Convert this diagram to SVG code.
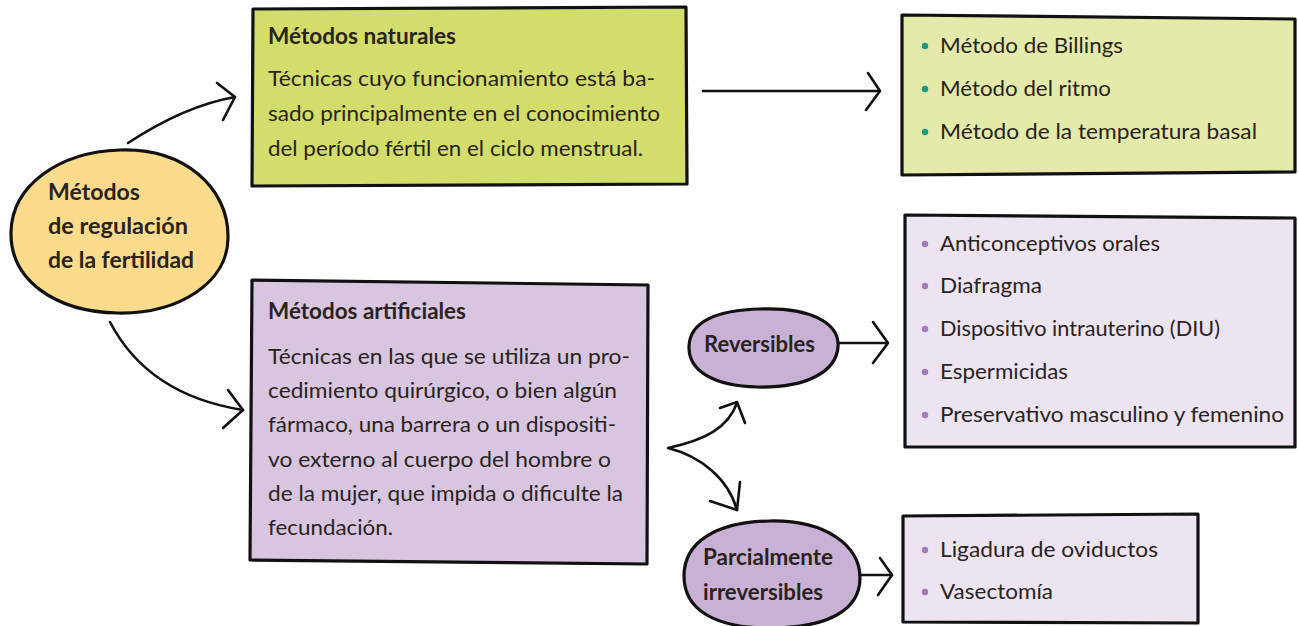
<svg xmlns="http://www.w3.org/2000/svg" width="1298" height="626" viewBox="0 0 1298 626">
<style>
.t{font-family:Lato,"Open Sans","Liberation Sans",sans-serif;font-size:22px;fill:#2a2320}
.b{font-weight:bold}
.box{stroke:#111;stroke-width:3.2;stroke-linejoin:round}
.con{fill:none;stroke:#111;stroke-width:2.6;stroke-linecap:round;stroke-linejoin:round}
.dg{fill:#1e9a7e}
.dp{fill:#a27bb8}
</style>
<rect width="1298" height="626" fill="#ffffff"/>

<g id="root">
<path class="box" fill="#fcdc8c" d="M120,150 C185,148 228,188 228,236 C229,283 178,314 118,313 C55,312 10,280 11,232 C12,186 58,152 120,150 Z"/>
<text class="t b" x="48" y="200" textLength="92" lengthAdjust="spacingAndGlyphs">Métodos</text>
<text class="t b" x="48" y="234" textLength="140" lengthAdjust="spacingAndGlyphs">de regulación</text>
<text class="t b" x="48" y="268" textLength="146" lengthAdjust="spacingAndGlyphs">de la fertilidad</text>
</g>

<g id="naturales">
<path class="box" fill="#d3dd6c" d="M253,9 L686,7 L687,184 L252,186 Z"/>
<text class="t b" x="268" y="44" textLength="188" lengthAdjust="spacingAndGlyphs">Métodos naturales</text>
<text class="t" x="268" y="86" textLength="387" lengthAdjust="spacingAndGlyphs">Técnicas cuyo funcionamiento está ba-</text>
<text class="t" x="268" y="121" textLength="392" lengthAdjust="spacingAndGlyphs">sado principalmente en el conocimiento</text>
<text class="t" x="268" y="156" textLength="375" lengthAdjust="spacingAndGlyphs">del período fértil en el ciclo menstrual.</text>
</g>

<g id="lista-naturales">
<path class="box" fill="#e4eaa9" d="M902,15 L1295,19 L1295,172 L902,175 Z"/>
<circle class="dg" cx="925" cy="46" r="3.2"/>
<text class="t" x="940" y="53" textLength="183" lengthAdjust="spacingAndGlyphs">Método de Billings</text>
<circle class="dg" cx="925" cy="89" r="3.2"/>
<text class="t" x="940" y="96" textLength="171" lengthAdjust="spacingAndGlyphs">Método del ritmo</text>
<circle class="dg" cx="925" cy="132" r="3.2"/>
<text class="t" x="940" y="139" textLength="317" lengthAdjust="spacingAndGlyphs">Método de la temperatura basal</text>
</g>

<g id="artificiales">
<path class="box" fill="#d8c6e0" d="M252,280 L648,285 L647,564 L250,560 Z"/>
<text class="t b" x="268" y="319" textLength="198" lengthAdjust="spacingAndGlyphs">Métodos artificiales</text>
<text class="t" x="268" y="364" textLength="362" lengthAdjust="spacingAndGlyphs">Técnicas en las que se utiliza un pro-</text>
<text class="t" x="268" y="398" textLength="349" lengthAdjust="spacingAndGlyphs">cedimiento quirúrgico, o bien algún</text>
<text class="t" x="268" y="432" textLength="348" lengthAdjust="spacingAndGlyphs">fármaco, una barrera o un dispositi-</text>
<text class="t" x="268" y="467" textLength="343" lengthAdjust="spacingAndGlyphs">vo externo al cuerpo del hombre o</text>
<text class="t" x="268" y="501" textLength="355" lengthAdjust="spacingAndGlyphs">de la mujer, que impida o dificulte la</text>
<text class="t" x="268" y="535" textLength="125" lengthAdjust="spacingAndGlyphs">fecundación.</text>
</g>

<g id="reversibles">
<path class="box" fill="#c9b1d6" d="M760,309 C808,307 840,322 838,347 C836,372 806,388 758,387 C712,386 688,370 689,346 C690,322 716,310 760,309 Z"/>
<text class="t b" x="704" y="352" textLength="111" lengthAdjust="spacingAndGlyphs">Reversibles</text>
</g>

<g id="parcialmente">
<path class="box" fill="#c9b1d6" d="M770,521 C825,520 860,545 860,578 C860,610 828,628 770,628 C715,628 684,610 684,576 C684,542 716,522 770,521 Z"/>
<text class="t b" x="703" y="565" textLength="130" lengthAdjust="spacingAndGlyphs">Parcialmente</text>
<text class="t b" x="703" y="600" textLength="120" lengthAdjust="spacingAndGlyphs">irreversibles</text>
</g>

<g id="lista-reversibles">
<path class="box" fill="#ede4f2" d="M905,215 L1295,218 L1295,447 L905,447 Z"/>
<circle class="dp" cx="925" cy="244" r="3.2"/>
<text class="t" x="940" y="251" textLength="220" lengthAdjust="spacingAndGlyphs">Anticonceptivos orales</text>
<circle class="dp" cx="925" cy="286" r="3.2"/>
<text class="t" x="940" y="293" textLength="102" lengthAdjust="spacingAndGlyphs">Diafragma</text>
<circle class="dp" cx="925" cy="329" r="3.2"/>
<text class="t" x="940" y="336" textLength="280" lengthAdjust="spacingAndGlyphs">Dispositivo intrauterino (DIU)</text>
<circle class="dp" cx="925" cy="372" r="3.2"/>
<text class="t" x="940" y="379" textLength="128" lengthAdjust="spacingAndGlyphs">Espermicidas</text>
<circle class="dp" cx="925" cy="415" r="3.2"/>
<text class="t" x="940" y="422" textLength="344" lengthAdjust="spacingAndGlyphs">Preservativo masculino y femenino</text>
</g>

<g id="lista-irreversibles">
<path class="box" fill="#ede4f2" d="M903,516 L1198,514 L1198,623 L903,622 Z"/>
<circle class="dp" cx="925" cy="550" r="3.2"/>
<text class="t" x="940" y="557" textLength="218" lengthAdjust="spacingAndGlyphs">Ligadura de oviductos</text>
<circle class="dp" cx="925" cy="592" r="3.2"/>
<text class="t" x="940" y="599" textLength="113" lengthAdjust="spacingAndGlyphs">Vasectomía</text>
</g>

<g id="connectors">
<path class="con" d="M128,143 C160,122 195,104 235,97"/>
<path class="con" d="M217,83 L235,97 L223,120"/>
<path class="con" d="M110,322 C135,370 180,400 243,410"/>
<path class="con" d="M228,390 L243,410 L223,428"/>
<path class="con" d="M703,91 L879,91"/>
<path class="con" d="M868,73 L880,91 L866,110"/>
<path class="con" d="M838,343 L887,343"/>
<path class="con" d="M873,322 L888,343 L873,363"/>
<path class="con" d="M860,575 L892,575"/>
<path class="con" d="M880,558 L892,575 L878,595"/>
<path class="con" d="M737,403 C728,428 705,440 668,448 C700,456 728,478 737,510"/>
<path class="con" d="M720,408 L737,402 L745,423"/>
<path class="con" d="M710,501 L737,510 L740,482"/>
</g>
</svg>
